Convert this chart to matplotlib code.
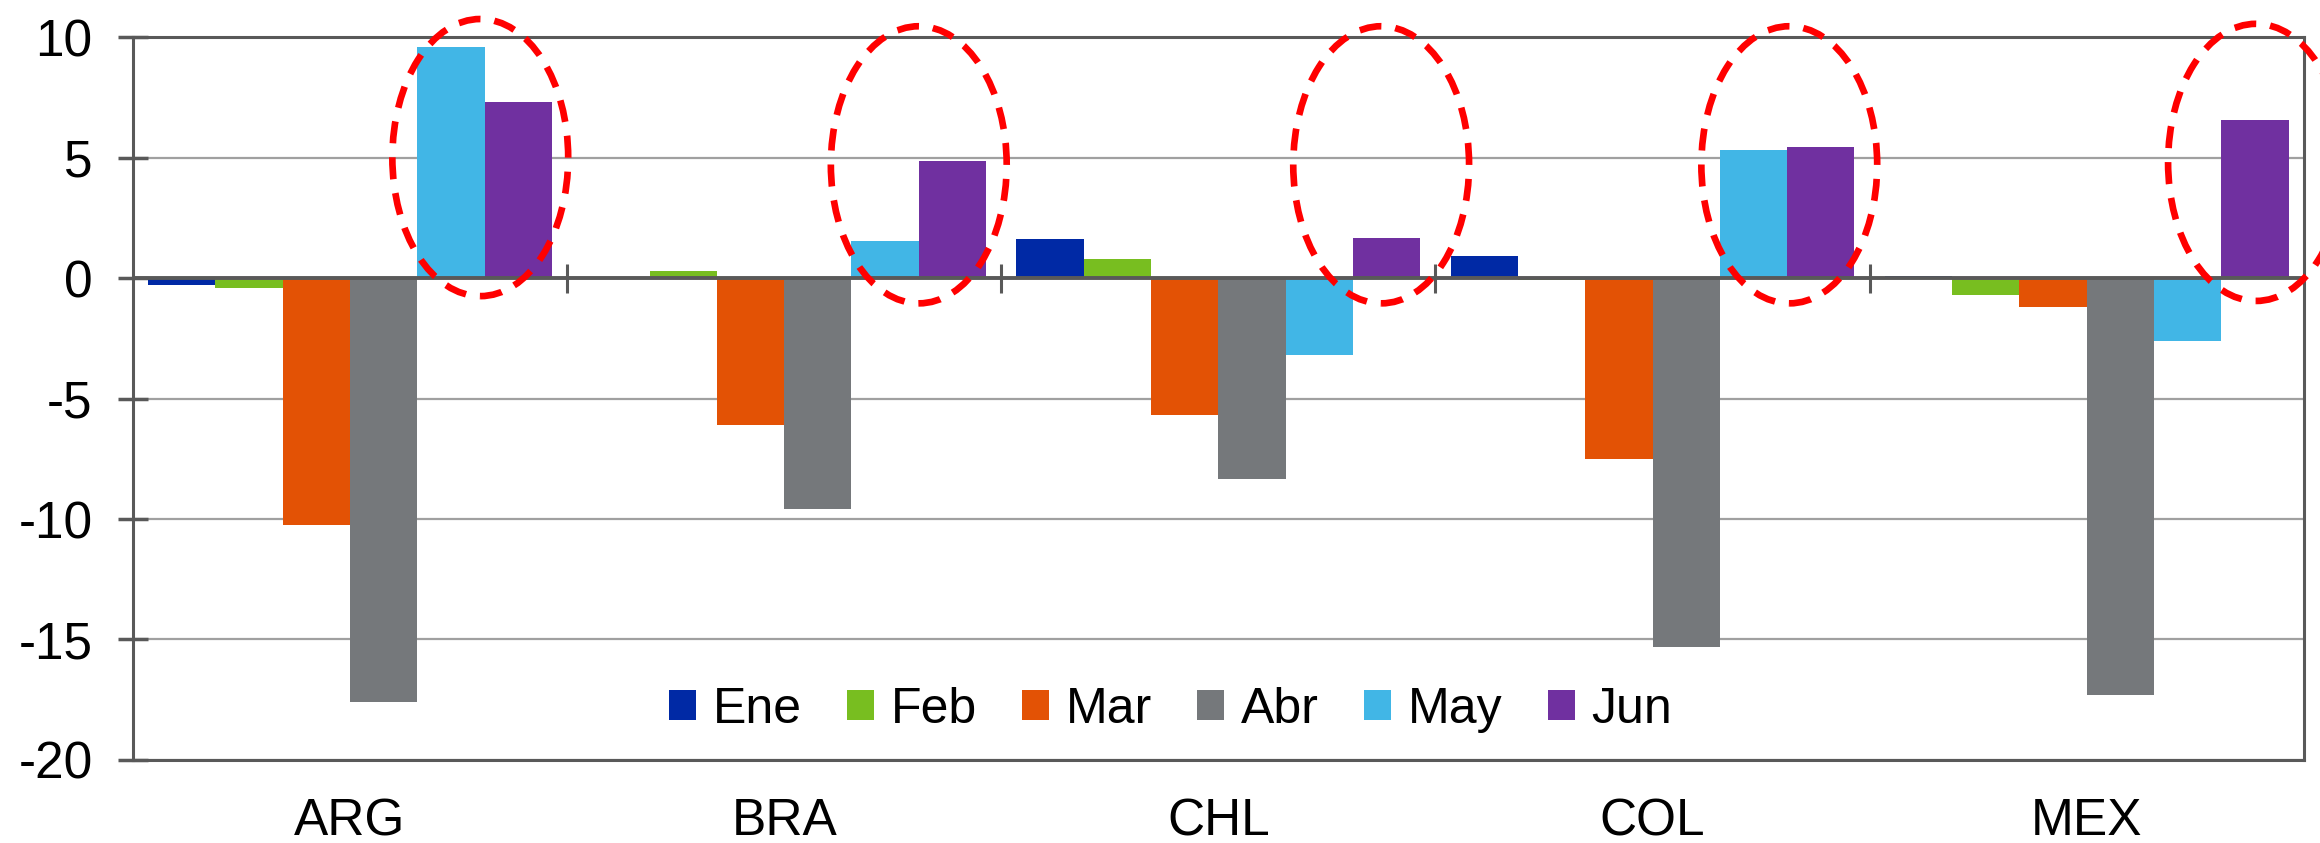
import numpy as np
import matplotlib.pyplot as plt
from matplotlib.patches import Ellipse

plt.rcParams['font.family'] = ['Liberation Sans', 'DejaVu Sans']

countries = ['ARG', 'BRA', 'CHL', 'COL', 'MEX']
months = ['Ene', 'Feb', 'Mar', 'Abr', 'May', 'Jun']
colors = ['#0029A5', '#78BE20', '#E35205', '#75787B', '#41B6E6', '#7030A0']

ene = [-0.3, 0.05, 1.6, 0.92, 0.1]
feb = [-0.4, 0.3, 0.8, -0.1, -0.7]
mar = [-10.25, -6.1, -5.7, -7.5, -1.2]
abr = [-17.6, -9.6, -8.35, -15.3, -17.3]
may = [9.6, 1.55, -3.2, 5.3, -2.6]
jun = [7.3, 4.85, 1.65, 5.45, 6.55]
series = [ene, feb, mar, abr, may, jun]

yticks = [10, 5, 0, -5, -10, -15, -20]

# hand-drawn highlight rings (centre x in category units, centre y)
ring_x = [0.30, 1.31, 2.375, 3.315, 4.39]
ring_y = [5.0, 4.7, 4.7, 4.7, 4.8]

fig = plt.figure(figsize=(23.2, 8.43), dpi=100)
ax = fig.add_axes([0.0573, 0.0985, 0.9357, 0.8575])

x = np.arange(len(countries))
w = 0.155
for j, vals in enumerate(series):
	ax.bar(x + (j - 2.5) * w, vals, w, color=colors[j], label=months[j], zorder=3)

ax.set_xlim(-0.5, len(countries) - 0.5)
ax.set_ylim(-20, 10)
ax.set_yticks(yticks)
ax.set_yticklabels([str(t) for t in yticks], fontsize=37)
ax.set_xticks(x)
ax.set_xticklabels(countries, fontsize=37)
ax.tick_params(axis='x', length=0, pad=27)
ax.tick_params(axis='y', direction='inout', length=22, width=2.5, color='#595959', pad=18)

ax.yaxis.grid(True, color='#A0A0A0', linewidth=1.6, zorder=0)
for s in ax.spines.values():
	s.set_color('#595959')
	s.set_linewidth(2.2)

# zero line with category separators
ax.axhline(0, color='#595959', linewidth=2.8, zorder=4)
ax.vlines(x[:-1] + 0.5, -0.6, 0.6, color='#595959', linewidth=2.2, zorder=4)

for cx, cy in zip(ring_x, ring_y):
	e = Ellipse((cx, cy), 0.405, 11.5, fill=False, edgecolor='#FF0000',
				linewidth=4.8, linestyle=(0, (3.3, 2.1)), zorder=5, clip_on=False)
	ax.add_patch(e)

ax.legend(loc='center', bbox_to_anchor=(0.478, 0.069), ncol=6, frameon=False, fontsize=36,
		  handlelength=0.54, handleheight=0.54, handletextpad=0.34, columnspacing=0.9)

fig.savefig('out.png', dpi=100)
